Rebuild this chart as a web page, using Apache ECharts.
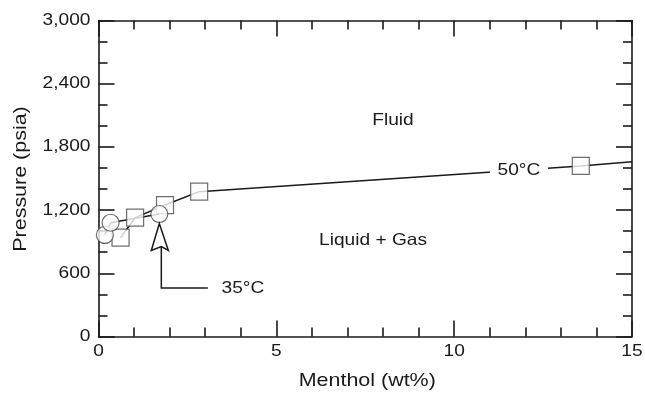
<!DOCTYPE html>
<html>
<head>
<meta charset="utf-8">
<script src="https://cdn.jsdelivr.net/npm/echarts@6/dist/echarts.min.js"></script>
<style>
  html, body { margin: 0; padding: 0; background: #fff; }
  #chart { width: 645px; height: 393px; }
</style>
</head>
<body>
<div id="chart"></div>
<script>
// Phase boundary of menthol in CO2: pressure vs. menthol loading
const menthol35 = [0.18, 0.34, 1.71];
const pressure35 = [964, 1080, 1163];

const menthol50 = [0.62, 1.03, 1.87, 2.83, 13.56];
const pressure50 = [938, 1128, 1248, 1375, 1619];

// where the 50 °C boundary curve meets the right edge of the plot
const edgeMenthol50 = 15;
const edgePressure50 = 1660;

const xTicks = [0, 5, 10, 15];
const yTicks = [0, 600, 1200, 1800, 2400, 3000];

const FONT = 'Liberation Sans, Arial, Helvetica, sans-serif';
const INK = '#1a1a1a';
const WIDE = 1.16; // the lettering is set slightly extended

const pts35 = menthol35.map((m, i) => [m, pressure35[i]]);
const pts50 = menthol50.map((m, i) => [m, pressure50[i]]);
const curve50 = pts50.concat([[edgeMenthol50, edgePressure50]]);

const chart = echarts.init(document.getElementById('chart'), null, { renderer: 'canvas' });

const axisLine = { show: true, onZero: false, lineStyle: { color: INK, width: 1.6 } };
const majorTick = { show: true, inside: true, length: 16, lineStyle: { color: INK, width: 1.6 } };

function xAxis(pos) {
  return {
    type: 'value', position: pos, min: xTicks[0], max: xTicks[xTicks.length - 1], interval: 5,
    axisLine: axisLine, axisTick: majorTick,
    minorTick: { show: true, splitNumber: 5, length: 9, lineStyle: { color: INK, width: 1.6 } },
    splitLine: { show: false }, minorSplitLine: { show: false },
    axisLabel: { show: false }
  };
}

function yAxis(pos) {
  return {
    type: 'value', position: pos, min: yTicks[0], max: yTicks[yTicks.length - 1], interval: 600,
    axisLine: axisLine, axisTick: majorTick,
    minorTick: { show: true, splitNumber: 3, length: 9, lineStyle: { color: INK, width: 1.6 } },
    splitLine: { show: false }, minorSplitLine: { show: false },
    axisLabel: { show: false }
  };
}

const markerStyle = { color: '#fff', borderColor: '#4a4a4a', borderWidth: 1.2 };

chart.setOption({
  animation: false,
  backgroundColor: '#fff',
  grid: { left: 98.5, right: 13, top: 20.5, bottom: 56.5, containLabel: false },
  xAxis: [xAxis('bottom'), xAxis('top')],
  yAxis: [yAxis('left'), yAxis('right')],
  series: [
    {
      name: '35 °C curve', type: 'line', data: pts35, showSymbol: false, z: 2,
      lineStyle: { color: INK, width: 1.5 }
    },
    {
      name: '50 °C curve', type: 'line', data: curve50, showSymbol: false, z: 2,
      lineStyle: { color: INK, width: 1.5 }
    },
    {
      name: '35 °C', type: 'scatter', data: pts35, symbol: 'circle', symbolSize: 17, z: 4,
      itemStyle: markerStyle
    },
    {
      name: '50 °C', type: 'scatter', data: pts50, symbol: 'rect', symbolSize: 17, z: 3,
      itemStyle: markerStyle
    }
  ]
});

// Text and annotations placed in data space and converted to pixels
const px = p => chart.convertToPixel({ gridIndex: 0 }, p);

function label(t, at, size, align, rotation) {
  return {
    type: 'text', x: at[0], y: at[1], z: 10,
    scaleX: WIDE, rotation: rotation || 0,
    style: { text: t, fill: INK, font: size + 'px ' + FONT, align: align || 'center', verticalAlign: 'middle' }
  };
}

const graphics = [];

xTicks.forEach(v => {
  const p = px([v, yTicks[0]]);
  graphics.push(label(String(v), [p[0], p[1] + 15], 16.5));
});
yTicks.forEach(v => {
  const p = px([xTicks[0], v]);
  graphics.push(label(v.toLocaleString('en-US'), [p[0] - 8, p[1]], 16.5, 'right'));
});

const origin = px([xTicks[0], yTicks[0]]);
const corner = px([xTicks[xTicks.length - 1], yTicks[yTicks.length - 1]]);
graphics.push(label('Menthol (wt%)', [(origin[0] + corner[0]) / 2 + 2, origin[1] + 44], 18.5));
graphics.push(label('Pressure (psia)', [21, (origin[1] + corner[1]) / 2 + 0.5], 18.5, 'center', Math.PI / 2));

const fluidAt = px([8.28, 2055]);
const twoPhaseAt = px([7.72, 916]);
const label50At = px([11.82, 1581]);
const label35At = px([4.06, 460]);
const tip = px([menthol35[2], pressure35[2]]);
const tipY = tip[1] + 9.5;
const stemX = tip[0] + 2;

graphics.push(label('Fluid', fluidAt, 16.5));
graphics.push(label('Liquid + Gas', twoPhaseAt, 16.5));
graphics.push({
  type: 'rect', z: 9,
  shape: { x: label50At[0] - 29, y: label50At[1] - 9, width: 58, height: 18 },
  style: { fill: '#fff' }
});
graphics.push(label('50°C', label50At, 16.5));
graphics.push(label('35°C', label35At, 16.5));
graphics.push({
  type: 'polygon', z: 10,
  shape: { points: [[tip[0], tipY], [tip[0] + 9, tipY + 27], [stemX, tipY + 23], [tip[0] - 8, tipY + 27]] },
  style: { fill: '#fff', stroke: INK, lineWidth: 1.5 }
});
graphics.push({
  type: 'polyline', z: 10,
  shape: { points: [[stemX, tipY + 23], [stemX, label35At[1]], [label35At[0] - 35, label35At[1]]] },
  style: { fill: null, stroke: INK, lineWidth: 1.5 }
});

chart.setOption({ graphic: graphics });
</script>
</body>
</html>
